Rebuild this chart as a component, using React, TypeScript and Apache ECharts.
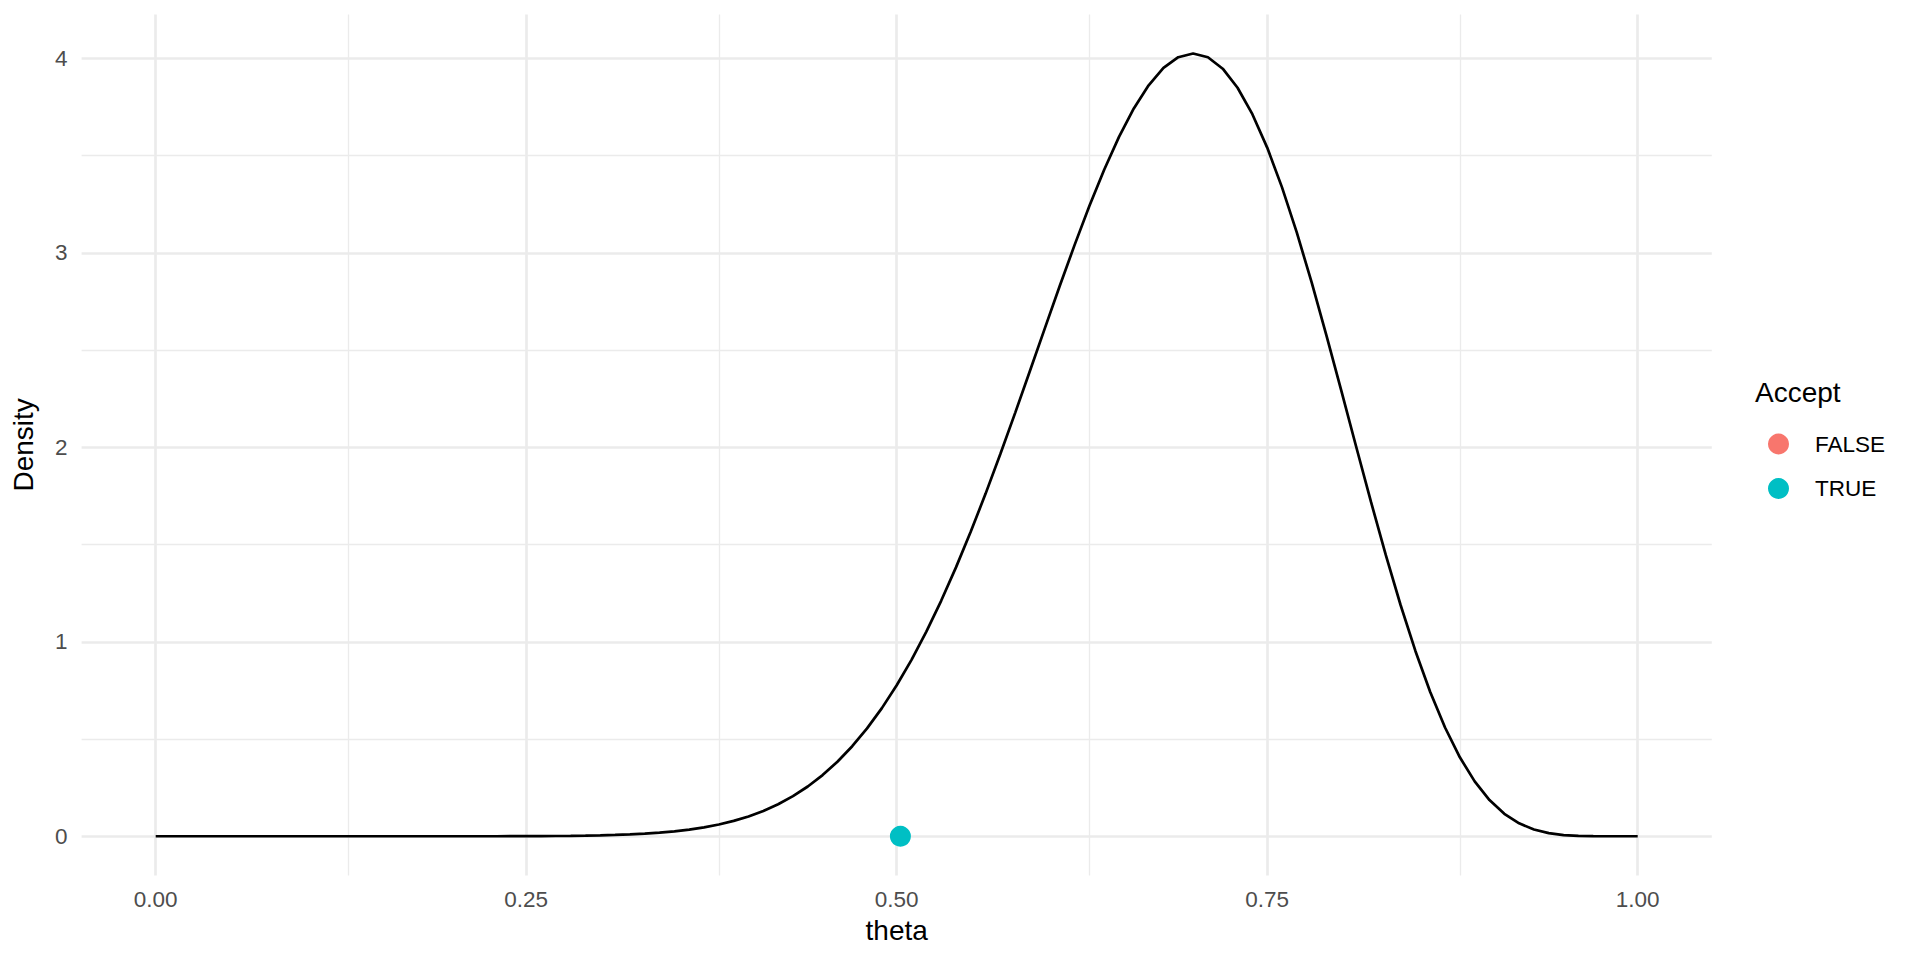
import React, { useEffect, useRef } from "react";
import * as echarts from "echarts";

// theta grid (x values of the density curve)
const theta = [
  0.0, 0.01, 0.02, 0.03, 0.04, 0.05, 0.06, 0.07, 0.08, 0.09,
  0.1, 0.11, 0.12, 0.13, 0.14, 0.15, 0.16, 0.17, 0.18, 0.19,
  0.2, 0.21, 0.22, 0.23, 0.24, 0.25, 0.26, 0.27, 0.28, 0.29,
  0.3, 0.31, 0.32, 0.33, 0.34, 0.35, 0.36, 0.37, 0.38, 0.39,
  0.4, 0.41, 0.42, 0.43, 0.44, 0.45, 0.46, 0.47, 0.48, 0.49,
  0.5, 0.51, 0.52, 0.53, 0.54, 0.55, 0.56, 0.57, 0.58, 0.59,
  0.6, 0.61, 0.62, 0.63, 0.64, 0.65, 0.66, 0.67, 0.68, 0.69,
  0.7, 0.71, 0.72, 0.73, 0.74, 0.75, 0.76, 0.77, 0.78, 0.79,
  0.8, 0.81, 0.82, 0.83, 0.84, 0.85, 0.86, 0.87, 0.88, 0.89,
  0.9, 0.91, 0.92, 0.93, 0.94, 0.95, 0.96, 0.97, 0.98, 0.99,
  1.0,
];

// density
const density = [
  0, 0, 0, 0, 0, 0, 0, 0, 0, 0,
  0, 0, 0, 0, 0, 0, 0, 0, 0, 0,
  0.0, 0.0001, 0.0001, 0.0002, 0.0003, 0.0005, 0.0009, 0.0014, 0.0021, 0.0031,
  0.0046, 0.0067, 0.0095, 0.0134, 0.0186, 0.0254, 0.0344, 0.0459, 0.0605, 0.079,
  0.1019, 0.1302, 0.1647, 0.2063, 0.2559, 0.3146, 0.3833, 0.463, 0.5546, 0.6588,
  0.7763, 0.9073, 1.0522, 1.2107, 1.3825, 1.5666, 1.7618, 1.9664, 2.1782, 2.3946,
  2.6126, 2.8289, 3.0394, 3.2403, 3.4272, 3.5959, 3.742, 3.8613, 3.9504, 4.0056,
  4.0245, 4.0052, 3.9465, 3.8487, 3.7127, 3.5409, 3.3363, 3.1035, 2.8475, 2.5745,
  2.291, 2.0039, 1.7204, 1.4467, 1.1891, 0.9528, 0.7419, 0.5592, 0.4059, 0.2821,
  0.1862, 0.1155, 0.0664, 0.0347, 0.016, 0.0062, 0.0019, 0.0004, 0.0, 0,
  0,
];

// points by Accept group
const acceptFalse: number[][] = [];
const acceptTrue: number[][] = [[0.5025, 0]];

const legendLabels = ["FALSE", "TRUE"];
const legendTitle = "Accept";

const xTicks = [0, 0.25, 0.5, 0.75, 1];
const xMinor = [0.125, 0.375, 0.625, 0.875];
const yTicks = [0, 1, 2, 3, 4];
const yMinor = [0.5, 1.5, 2.5, 3.5];

const FONT = "'Liberation Sans', Arial, Helvetica, sans-serif";
const GRID_COLOR = "#EBEBEB";

export default function App() {
  const ref = useRef<HTMLDivElement>(null);

  useEffect(() => {
    if (!ref.current) return;
    const chart = echarts.init(ref.current, null, { renderer: "svg" });

    const curve = theta.map((t, i) => [t, density[i]]);

    const option: any = {
      animation: false,
      backgroundColor: "#ffffff",
      textStyle: { fontFamily: FONT },
      grid: { left: 81.6, right: 208.2, top: 14.4, bottom: 84.6, containLabel: false },
      title: {
        text: legendTitle,
        left: 1755,
        top: 378.5,
        padding: 0,
        textStyle: { fontSize: 28, fontWeight: "normal", color: "#000000", fontFamily: FONT },
      },
      legend: {
        data: legendLabels,
        orient: "vertical",
        left: 1768,
        top: 432.5,
        padding: 0,
        itemWidth: 63,
        itemHeight: 21,
        itemGap: 21.5,
        icon: "circle",
        selectedMode: false,
        textStyle: { fontSize: 22.5, color: "#000000", fontFamily: FONT },
      },
      xAxis: {
        type: "value",
        min: -0.05,
        max: 1.05,
        name: "theta",
        nameLocation: "middle",
        nameGap: 41,
        nameTextStyle: { fontSize: 28, color: "#000000", fontFamily: FONT },
        axisLine: { show: false },
        axisTick: { show: false },
        splitLine: { show: false },
        axisLabel: {
          customValues: xTicks,
          formatter: (v: number) => v.toFixed(2),
          color: "#4D4D4D",
          fontSize: 22.5,
          margin: 13,
          fontFamily: FONT,
        },
      },
      yAxis: {
        type: "value",
        min: -0.2012,
        max: 4.2257,
        name: "Density",
        nameLocation: "middle",
        nameGap: 44,
        nameTextStyle: { fontSize: 28, color: "#000000", fontFamily: FONT },
        axisLine: { show: false },
        axisTick: { show: false },
        splitLine: { show: false },
        axisLabel: {
          customValues: yTicks,
          formatter: (v: number) => String(v),
          color: "#4D4D4D",
          fontSize: 22.5,
          margin: 14,
          fontFamily: FONT,
        },
      },
      series: [
        {
          name: "gridMinor",
          type: "line",
          data: [],
          z: 1,
          silent: true,
          markLine: {
            silent: true,
            z: 1,
            symbol: ["none", "none"],
            label: { show: false },
            lineStyle: { color: GRID_COLOR, width: 1.35, type: "solid" },
            emphasis: { disabled: true },
            data: [
              ...xMinor.map((v) => ({ xAxis: v })),
              ...yMinor.map((v) => ({ yAxis: v })),
            ],
          },
        },
        {
          name: "gridMajor",
          type: "line",
          data: [],
          z: 1,
          silent: true,
          markLine: {
            silent: true,
            z: 1,
            symbol: ["none", "none"],
            label: { show: false },
            lineStyle: { color: GRID_COLOR, width: 2.7, type: "solid" },
            emphasis: { disabled: true },
            data: [
              ...xTicks.map((v) => ({ xAxis: v })),
              ...yTicks.map((v) => ({ yAxis: v })),
            ],
          },
        },
        {
          name: "density",
          type: "line",
          data: curve,
          showSymbol: false,
          symbol: "none",
          z: 10,
          lineStyle: { color: "#000000", width: 2.7 },
          itemStyle: { color: "#000000" },
        },
        {
          name: "FALSE",
          type: "scatter",
          data: acceptFalse,
          symbol: "circle",
          symbolSize: 21,
          z: 11,
          itemStyle: { color: "#F8766D", opacity: 1 },
        },
        {
          name: "TRUE",
          type: "scatter",
          data: acceptTrue,
          symbol: "circle",
          symbolSize: 21,
          z: 11,
          itemStyle: { color: "#00BFC4", opacity: 1 },
        },
      ],
    };

    chart.setOption(option);
    return () => {
      chart.dispose();
    };
  }, []);

  return (
    <div
      ref={ref}
      style={{ position: "fixed", left: 0, top: 0, width: 1920, height: 960, background: "#ffffff" }}
    />
  );
}
